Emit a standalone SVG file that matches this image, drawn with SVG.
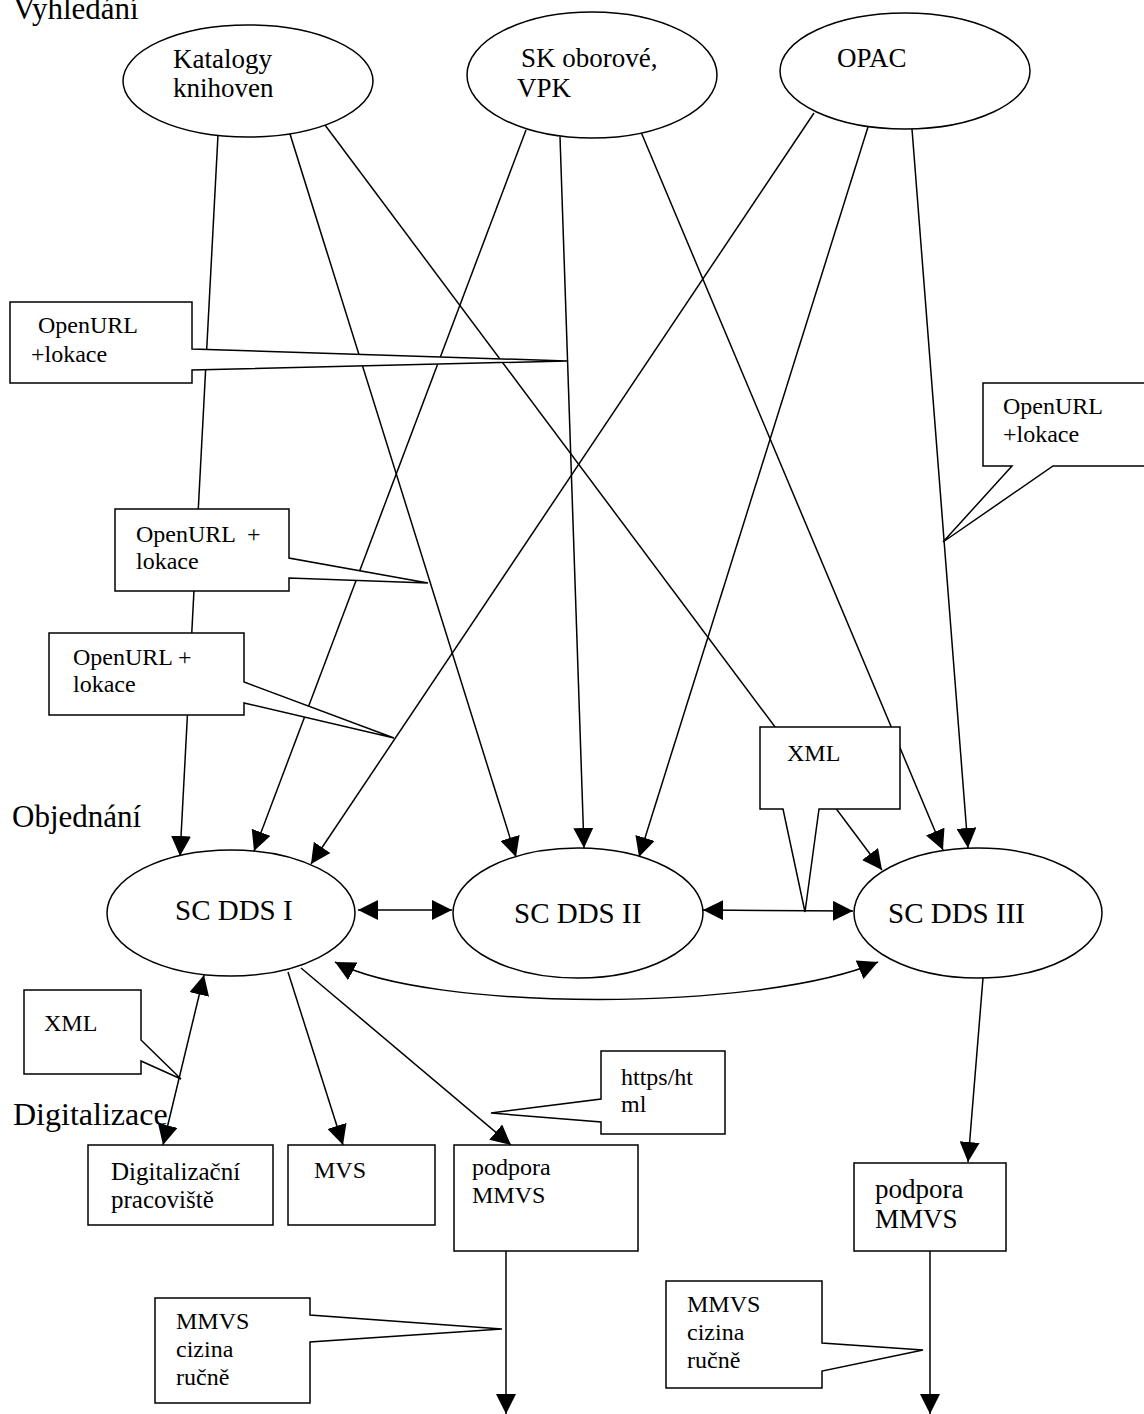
<svg xmlns="http://www.w3.org/2000/svg" width="1144" height="1414" viewBox="0 0 1144 1414">
<style>
.n{fill:#fff;stroke:#000;stroke-width:1.5}
.c{fill:none;stroke:#000;stroke-width:1.5}
.a{marker-end:url(#ah)}
.b{marker-start:url(#ah);marker-end:url(#ah)}
text{font-family:"Liberation Serif","Times New Roman",serif;fill:#000}
.lab{font-size:31px}
.el{font-size:27px}
.dd{font-size:29px}
.co{font-size:24px}
.bx{font-size:24px}
</style>
<defs>
<marker id="ah" viewBox="0 0 20 20" refX="20" refY="10" markerWidth="20" markerHeight="20" markerUnits="userSpaceOnUse" orient="auto-start-reverse">
<path d="M0,0 L20,10 L0,20 Z" fill="#000"/>
</marker>
</defs>
<rect width="1144" height="1414" fill="#fff"/>
<text class="lab" x="13" y="19">Vyhledání</text>
<text class="lab" x="12" y="827">Objednání</text>
<text class="lab" x="13" y="1125" style="font-size:32px">Digitalizace</text>
<g id="connectors">
<path class="c a" d="M218,135 L180,856"/>
<path class="c a" d="M290,134 L516,857"/>
<path class="c a" d="M325,125 L882,870"/>
<path class="c a" d="M526,130 L254,851"/>
<path class="c a" d="M560,137 L584,848"/>
<path class="c a" d="M641,132 L943,850"/>
<path class="c a" d="M814,113 L311,864"/>
<path class="c a" d="M868,127 L639,857"/>
<path class="c a" d="M912,129 L968,848"/>
<path class="c b" d="M358,910 L452,910"/>
<path class="c b" d="M703,910 L853,911"/>
<path class="c b" d="M335,962 C430,1012 760,1012 878,962"/>
<path class="c b" d="M204,975 L163,1145"/>
<path class="c a" d="M288,972 L343,1145"/>
<path class="c a" d="M301,968 L511,1145"/>
<path class="c a" d="M983,978 L968,1162"/>
<path class="c a" d="M506,1251 L506,1414"/>
<path class="c a" d="M930,1251 L930,1414"/>
</g>
<g id="katalogy">
<ellipse class="n" cx="248" cy="81" rx="125" ry="56"/>
<text class="el" x="173" y="68">Katalogy</text>
<text class="el" x="173" y="97">knihoven</text>
</g>
<g id="sk">
<ellipse class="n" cx="592" cy="75" rx="125" ry="63"/>
<text class="el" x="521" y="67">SK oborové,</text>
<text class="el" x="517" y="97">VPK</text>
</g>
<g id="opac">
<ellipse class="n" cx="905" cy="71" rx="125" ry="58"/>
<text class="el" x="837" y="67">OPAC</text>
</g>
<g id="scdds1">
<ellipse class="n" cx="231" cy="913" rx="124" ry="63"/>
<text class="dd" x="175" y="920">SC DDS I</text>
</g>
<g id="scdds2">
<ellipse class="n" cx="578" cy="913" rx="125" ry="65"/>
<text class="dd" x="514" y="923">SC DDS II</text>
</g>
<g id="scdds3">
<ellipse class="n" cx="978" cy="913" rx="124" ry="65"/>
<text class="dd" x="888" y="923">SC DDS III</text>
</g>
<g id="digi">
<rect class="n" x="88" y="1145" width="185" height="80"/>
<text class="bx" x="111" y="1180" style="font-size:25px">Digitalizační</text>
<text class="bx" x="111" y="1208" style="font-size:25px">pracoviště</text>
</g>
<g id="mvs">
<rect class="n" x="288" y="1145" width="147" height="80"/>
<text class="bx" x="314" y="1178">MVS</text>
</g>
<g id="podpora1">
<rect class="n" x="454" y="1145" width="184" height="106"/>
<text class="bx" x="472" y="1175">podpora</text>
<text class="bx" x="472" y="1203">MMVS</text>
</g>
<g id="podpora2">
<rect class="n" x="854" y="1163" width="152" height="88"/>
<text class="el" x="875" y="1198">podpora</text>
<text class="el" x="875" y="1228">MMVS</text>
</g>
<g id="callout1">
<path class="n" d="M10,302 H192 V349 L567,361 L192,370 V383 H10 Z"/>
<text class="co" x="38" y="333">OpenURL</text>
<text class="co" x="31" y="362">+lokace</text>
</g>
<g id="callout2">
<path class="n" d="M115,509 H289 V558 L428,583 L289,578 V591 H115 Z"/>
<text class="co" x="136" y="542" xml:space="preserve">OpenURL  +</text>
<text class="co" x="136" y="569">lokace</text>
</g>
<g id="callout3">
<path class="n" d="M49,633 H244 V682 L394,738 L244,703 V715 H49 Z"/>
<text class="co" x="73" y="665">OpenURL +</text>
<text class="co" x="73" y="692">lokace</text>
</g>
<g id="callout4">
<path class="n" d="M983,383 H1150 V466 H1053 L943,542 L1012,466 H983 Z"/>
<text class="co" x="1003" y="414">OpenURL</text>
<text class="co" x="1003" y="442">+lokace</text>
</g>
<g id="callout5">
<path class="n" d="M760,727 H900 V809 H819 L805,912 L783,809 H760 Z"/>
<text class="co" x="787" y="761">XML</text>
</g>
<g id="callout6">
<path class="n" d="M24,990 H141 V1040 L181,1079 L141,1061 V1074 H24 Z"/>
<text class="co" x="44" y="1031">XML</text>
</g>
<g id="callout7">
<path class="n" d="M601,1051 H725 V1134 H601 V1122 L491,1113 L601,1099 Z"/>
<text class="co" x="621" y="1085">https/ht</text>
<text class="co" x="621" y="1112">ml</text>
</g>
<g id="callout8">
<path class="n" d="M155,1298 H310 V1315 L502,1329 L310,1342 V1403 H155 Z"/>
<text class="co" x="176" y="1329">MMVS</text>
<text class="co" x="176" y="1357">cizina</text>
<text class="co" x="176" y="1385">ručně</text>
</g>
<g id="callout9">
<path class="n" d="M666,1281 H822 V1343 L923,1350 L822,1371 V1388 H666 Z"/>
<text class="co" x="687" y="1312">MMVS</text>
<text class="co" x="687" y="1340">cizina</text>
<text class="co" x="687" y="1368">ručně</text>
</g>
</svg>
